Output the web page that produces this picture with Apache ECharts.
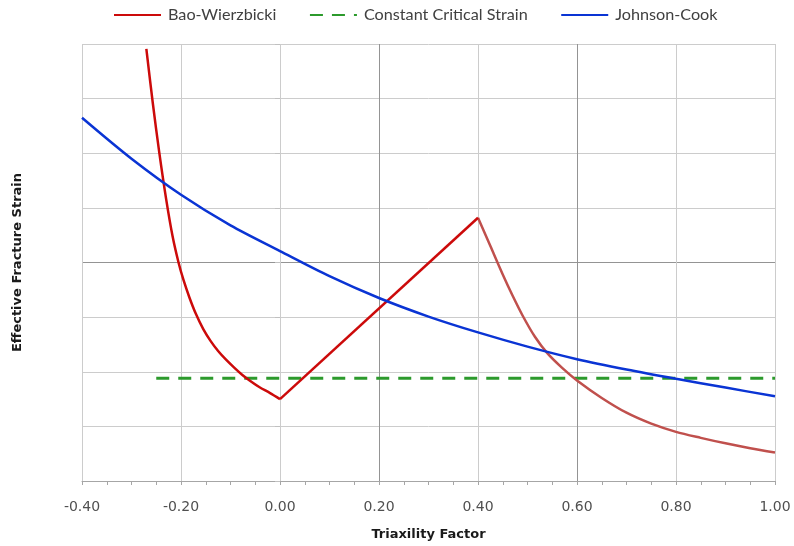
<!DOCTYPE html>
<html>
<head>
<meta charset="utf-8">
<script src="https://cdn.jsdelivr.net/npm/echarts@6/dist/echarts.min.js"></script>
<style>html,body{margin:0;padding:0;background:#fff}#c{width:794px;height:546px}</style>
</head>
<body>
<div id="c"></div>
<script>
// Bao-Wierzbicki, curved part for negative triaxiality
const bwCurve = [
  [-0.270, 7.91], [-0.257, 6.92], [-0.244, 6.02], [-0.230, 5.16], [-0.217, 4.48],
  [-0.205, 4.00], [-0.195, 3.68], [-0.183, 3.36], [-0.170, 3.06], [-0.155, 2.78],
  [-0.140, 2.56], [-0.125, 2.38], [-0.109, 2.22], [-0.092, 2.07], [-0.076, 1.94],
  [-0.060, 1.83], [-0.042, 1.72], [-0.020, 1.61], [0.000, 1.50]
];
// Bao-Wierzbicki, straight rise to peak
const bwRise = [[0.000, 1.50], [0.400, 4.82]];
// Bao-Wierzbicki, falling part after peak
const bwFall = [
  [0.400, 4.82], [0.425, 4.30], [0.450, 3.78], [0.470, 3.39], [0.490, 3.03],
  [0.515, 2.64], [0.540, 2.34], [0.570, 2.07], [0.600, 1.84], [0.650, 1.52],
  [0.700, 1.25], [0.750, 1.05], [0.800, 0.90], [0.850, 0.79], [0.900, 0.69],
  [0.950, 0.60], [1.000, 0.52]
];
// Constant Critical Strain
const ccs = [[-0.25, 1.88], [1.00, 1.88]];
// Johnson-Cook
const jcX = [-0.4, -0.3, -0.2, -0.1, 0.0, 0.1, 0.2, 0.3, 0.4, 0.5, 0.6, 0.7, 0.8, 0.9, 1.0];
const jcY = [6.65, 5.90, 5.24, 4.68, 4.21, 3.75, 3.35, 3.01, 2.72, 2.46, 2.23, 2.04, 1.87, 1.71, 1.55];
// axis ticks
const xTickMin = -0.4, xTickMax = 1.0, xTickStep = 0.2;
const yTickMin = 0, yTickMax = 8, yTickStep = 1;
const seriesNames = ['Bao-Wierzbicki', 'Constant Critical Strain', 'Johnson-Cook'];

const jc = jcX.map((x, i) => [x, jcY[i]]);
const L = '#cccccc', D = '#949494';
const RED = '#cc0a0a', RED2 = '#c0504d', GREEN = '#2c9a2c', BLUE = '#0a34d4';

const chart = echarts.init(document.getElementById('c'), null, {renderer: 'canvas'});
chart.setOption({
  backgroundColor: '#fff',
  animation: false,
  legend: {
    data: seriesNames,
    left: 108, top: 2,
    itemWidth: 47, itemHeight: 14, itemGap: 32.5,
    itemStyle: {opacity: 0},
    textStyle: {fontFamily: 'Lato', fontSize: 16.2, color: '#404040', padding: [0, 0, 0, 2]}
  },
  grid: {left: 82, right: 19, top: 44, bottom: 64, containLabel: false},
  xAxis: {
    type: 'value', min: xTickMin, max: xTickMax, interval: xTickStep,
    name: 'Triaxility Factor', nameLocation: 'middle', nameGap: 47,
    nameTextStyle: {fontFamily: 'DejaVu Sans', fontWeight: 'bold', fontSize: 13, color: '#1a1a1a'},
    axisLine: {show: true, lineStyle: {color: '#a6a6a6', width: 1}},
    axisTick: {show: true, length: 4, lineStyle: {color: '#a6a6a6'}},
    minorTick: {show: true, splitNumber: 4, length: 4, lineStyle: {color: '#a6a6a6'}},
    axisLabel: {margin: 19, fontFamily: 'DejaVu Sans', fontSize: 14, color: '#505050',
      formatter: v => v.toFixed(2)},
    splitLine: {show: true, lineStyle: {color: [L, L, L, D, L, D, L, L], width: 1}}
  },
  yAxis: {
    type: 'value', min: yTickMin, max: yTickMax, interval: yTickStep,
    name: 'Effective Fracture Strain', nameLocation: 'middle', nameGap: 58,
    nameTextStyle: {fontFamily: 'DejaVu Sans', fontWeight: 'bold', fontSize: 13, color: '#1a1a1a'},
    axisLine: {show: false},
    axisTick: {show: true, length: 5, lineStyle: {color: '#c0c0c0'}},
    axisLabel: {show: false},
    splitLine: {show: true, lineStyle: {color: [L, L, L, L, D, L, L, L, L], width: 1}}
  },
  series: [
    {name: seriesNames[0], type: 'line', data: bwCurve, symbol: 'none', smooth: 0.3, z: 4,
     lineStyle: {color: RED, width: 2.5}, itemStyle: {color: RED}},
    {name: seriesNames[0], type: 'line', data: bwRise, symbol: 'none', z: 4,
     lineStyle: {color: RED, width: 2.5}, itemStyle: {color: RED}},
    {name: seriesNames[0], type: 'line', data: bwFall, symbol: 'none', smooth: 0.3, z: 3,
     lineStyle: {color: RED2, width: 2.5}, itemStyle: {color: RED2}},
    {name: seriesNames[1], type: 'line', data: ccs, symbol: 'none', z: 2,
     lineStyle: {color: GREEN, width: 3, type: [13, 9]}, itemStyle: {color: GREEN}},
    {name: seriesNames[2], type: 'line', data: jc, symbol: 'none', smooth: 0.3, z: 5,
     lineStyle: {color: BLUE, width: 2.5}, itemStyle: {color: BLUE}}
  ]
});
</script>
</body>
</html>
